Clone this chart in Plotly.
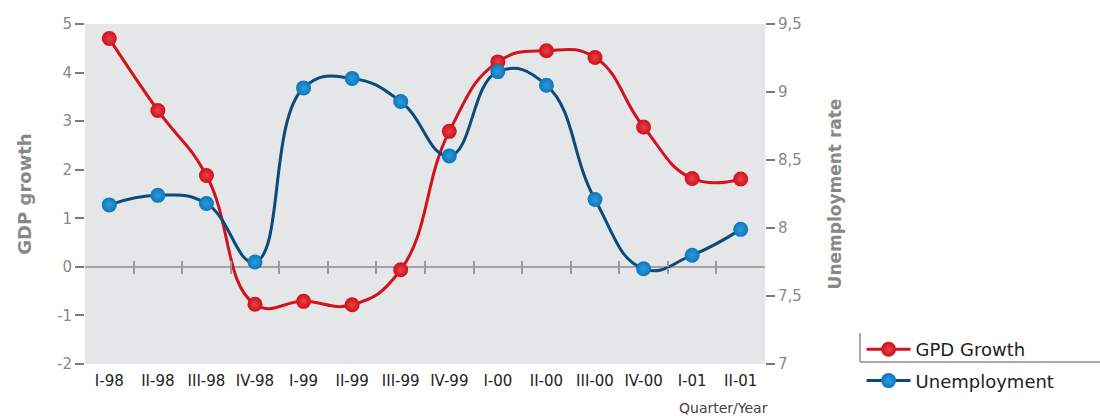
import plotly.graph_objects as go

quarters = ["I-98", "II-98", "III-98", "IV-98", "I-99", "II-99", "III-99", "IV-99",
            "I-00", "II-00", "III-00", "IV-00", "I-01", "II-01"]
gdp_growth = [4.7, 3.22, 1.88, -0.77, -0.71, -0.78, -0.06, 2.79,
              4.22, 4.45, 4.31, 2.88, 1.82, 1.81]
unemployment = [8.17, 8.24, 8.18, 7.75, 9.03, 9.1, 8.93, 8.53,
                9.15, 9.05, 8.21, 7.7, 7.8, 7.99]

left_ticks = [-2, -1, 0, 1, 2, 3, 4, 5]
left_ticktext = ["-2", "-1", "0", "1", "2", "3", "4", "5"]
right_ticks = [7, 7.5, 8, 8.5, 9, 9.5]
right_ticktext = ["7", "7,5", "8", "8,5", "9", "9,5"]
boundary_ticks = [i + 0.5 for i in range(len(quarters) - 1)]

FONT = "DejaVu Sans"
RED_LINE = "#d0141e"
RED_MARK = "#cf101b"
BLUE_LINE = "#0b4a7c"
BLUE_MARK = "#0a78bd"

fig = go.Figure()
fig.add_trace(go.Scatter(
    x=quarters, y=gdp_growth, name="GPD Growth", yaxis="y", legendgroup="g1",
    mode="lines+markers",
    line=dict(color=RED_LINE, width=3, shape="spline", smoothing=1.3),
    marker=dict(size=15, color=RED_MARK, line=dict(width=0),
                gradient=dict(type="radial", color="#e8424b")),
))
fig.add_trace(go.Scatter(
    x=quarters, y=unemployment, name="Unemployment", yaxis="y2", legendgroup="g2",
    mode="lines+markers",
    line=dict(color=BLUE_LINE, width=3, shape="spline", smoothing=1.3),
    marker=dict(size=15, color=BLUE_MARK, line=dict(width=0),
                gradient=dict(type="radial", color="#2f9ad8")),
))
# empty helper traces so the zero-line tick axes get drawn
for ax in ("x2", "x3"):
    fig.add_trace(go.Scatter(x=[None], y=[None], xaxis=ax, yaxis="y",
                             showlegend=False, hoverinfo="skip", mode="lines"))

axis_zero_pos = (0 - left_ticks[0]) / (left_ticks[-1] - left_ticks[0])

fig.update_layout(
    width=1100, height=416,
    margin=dict(l=85, r=335, t=24, b=52),
    paper_bgcolor="white",
    plot_bgcolor="#e5e6e8",
    font=dict(family=FONT, color="#888888"),
    showlegend=True,
    legend=dict(
        x=1.142, y=0.097, xanchor="left", yanchor="top",
        font=dict(family=FONT, size=18, color="#222222"),
        bgcolor="rgba(0,0,0,0)", borderwidth=0,
        itemwidth=44, tracegroupgap=5, traceorder="grouped",
    ),
    xaxis=dict(
        type="category", categoryarray=quarters, range=[-0.5, len(quarters) - 0.5],
        showgrid=False, zeroline=False, showline=False, ticks="",
        tickfont=dict(family=FONT, size=15, color="#222222"),
        ticklabelstandoff=6,
    ),
    xaxis2=dict(
        overlaying="x", anchor="free", position=axis_zero_pos, side="bottom",
        range=[-0.5, len(quarters) - 0.5], tickvals=boundary_ticks,
        showticklabels=False, ticks="outside", ticklen=6, tickwidth=1.5,
        tickcolor="#9a9a9a", showgrid=False, zeroline=False, showline=False,
    ),
    xaxis3=dict(
        overlaying="x", anchor="free", position=axis_zero_pos, side="top",
        range=[-0.5, len(quarters) - 0.5], tickvals=boundary_ticks,
        showticklabels=False, ticks="outside", ticklen=6, tickwidth=1.5,
        tickcolor="#9a9a9a", showgrid=False, zeroline=False, showline=False,
    ),
    yaxis=dict(
        range=[left_ticks[0], left_ticks[-1]], tickvals=left_ticks, ticktext=left_ticktext,
        showgrid=False, zeroline=True, zerolinecolor="#a3a3a3", zerolinewidth=2,
        ticks="outside", ticklen=9, tickwidth=2, tickcolor="#7a7a7a",
        tickfont=dict(family=FONT, size=15, color="#888888"),
        title=dict(text="<b>GDP growth</b>", font=dict(family=FONT, size=18, color="#888888"),
                   standoff=20),
        showline=False,
    ),
    yaxis2=dict(
        overlaying="y", side="right", anchor="x",
        range=[right_ticks[0], right_ticks[-1]], tickvals=right_ticks, ticktext=right_ticktext,
        showgrid=False, zeroline=False, showline=False,
        ticks="outside", ticklen=9, tickwidth=2, tickcolor="#7a7a7a",
        tickfont=dict(family=FONT, size=15, color="#888888"),
        title=dict(text="<b>Unemployment rate</b>", font=dict(family=FONT, size=17, color="#888888"),
                   standoff=28),
    ),
    annotations=[dict(
        text="Quarter/Year", xref="paper", yref="paper", x=1.0074, y=-0.129,
        xanchor="right", yanchor="middle", showarrow=False,
        font=dict(family=FONT, size=14, color="#444444"),
    )],
    shapes=[
        dict(type="line", xref="paper", yref="paper", x0=1.1397, x1=1.1397, y0=0.0912, y1=0.0059,
             line=dict(color="#aaaaaa", width=2)),
        dict(type="line", xref="paper", yref="paper", x0=1.1397, x1=1.4926, y0=0.0059, y1=0.0059,
             line=dict(color="#aaaaaa", width=2)),
    ],
)

fig.write_html("out.html")
